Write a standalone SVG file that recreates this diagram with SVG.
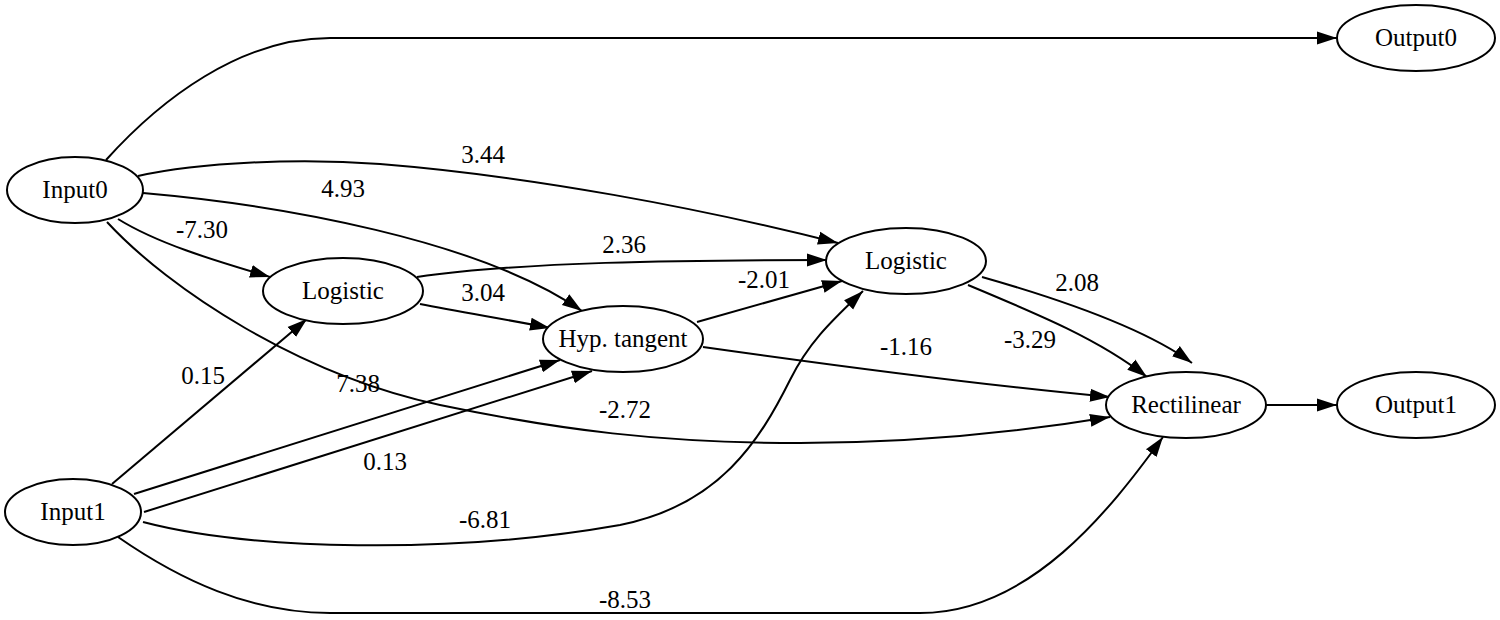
<svg xmlns="http://www.w3.org/2000/svg" width="1500" height="620" viewBox="0 0 1500 620">
<defs>
<style>
.n ellipse{fill:#fff;stroke:#000;stroke-width:2}
text{font-family:"Liberation Serif","Times New Roman",serif;font-size:25px;fill:#000;text-anchor:middle}
.e path{fill:none;stroke:#000;stroke-width:2;marker-end:url(#a)}
</style>
<marker id="a" markerWidth="22" markerHeight="16" refX="20" refY="7.5" orient="auto" markerUnits="userSpaceOnUse"><path d="M0,1 L20,7.5 L0,14 z" fill="#000"/></marker>
</defs>
<rect width="1500" height="620" fill="#fff"/>
<g id="connectors" class="e">
<path d="M106,160 C160,100 240,38 330,38 L1337,38"/>
<path d="M138,176 C200,162 300,158 380,164 C530,176 700,208 838,243"/>
<path d="M143,193 C280,205 480,240 582,311"/>
<path d="M118,219 C160,245 220,262 270,277"/>
<path d="M107,222 C170,290 300,375 440,405 C560,430 660,443 800,443 C920,443 1020,432 1110,417"/>
<path d="M417,277 C520,262 680,260 827,260"/>
<path d="M420,304 C460,312 510,320 550,328"/>
<path d="M697,322 L842,281"/>
<path d="M703,347 C830,365 980,385 1110,397"/>
<path d="M982,277 C1070,302 1150,332 1192,363"/>
<path d="M968,285 C1040,315 1100,340 1147,377"/>
<path d="M112,484 L307,319"/>
<path d="M134,494 L560,360"/>
<path d="M144,512 L592,371"/>
<path d="M143,522 C250,550 450,555 620,525 C720,505 760,440 790,380 C810,340 835,318 863,291"/>
<path d="M118,537 C180,580 250,613 330,613 L920,613 C1030,613 1110,510 1163,437"/>
<path d="M1266,405 L1337,405"/>
</g>
<g id="edge-labels">
<text x="483" y="163">3.44</text>
<text x="343" y="197">4.93</text>
<text x="202" y="238">-7.30</text>
<text x="624" y="253">2.36</text>
<text x="483" y="301">3.04</text>
<text x="764" y="288">-2.01</text>
<text x="1077" y="291">2.08</text>
<text x="1030" y="348">-3.29</text>
<text x="906" y="355">-1.16</text>
<text x="203" y="384">0.15</text>
<text x="358" y="392">7.38</text>
<text x="625" y="418">-2.72</text>
<text x="385" y="470">0.13</text>
<text x="485" y="528">-6.81</text>
<text x="625" y="608">-8.53</text>
</g>
<g id="input0" class="n"><ellipse cx="75" cy="190" rx="68" ry="33"/><text x="75" y="198">Input0</text></g>
<g id="input1" class="n"><ellipse cx="73" cy="512" rx="68" ry="33"/><text x="73" y="520">Input1</text></g>
<g id="logistic1" class="n"><ellipse cx="343" cy="291" rx="80" ry="33"/><text x="343" y="299">Logistic</text></g>
<g id="hyptangent" class="n"><ellipse cx="623" cy="339" rx="80" ry="33"/><text x="623" y="347">Hyp. tangent</text></g>
<g id="logistic2" class="n"><ellipse cx="906" cy="261" rx="80" ry="33"/><text x="906" y="269">Logistic</text></g>
<g id="rectilinear" class="n"><ellipse cx="1186" cy="405" rx="80" ry="33"/><text x="1186" y="413">Rectilinear</text></g>
<g id="output0" class="n"><ellipse cx="1416" cy="38" rx="79" ry="33"/><text x="1416" y="46">Output0</text></g>
<g id="output1" class="n"><ellipse cx="1416" cy="405" rx="79" ry="33"/><text x="1416" y="413">Output1</text></g>
</svg>
